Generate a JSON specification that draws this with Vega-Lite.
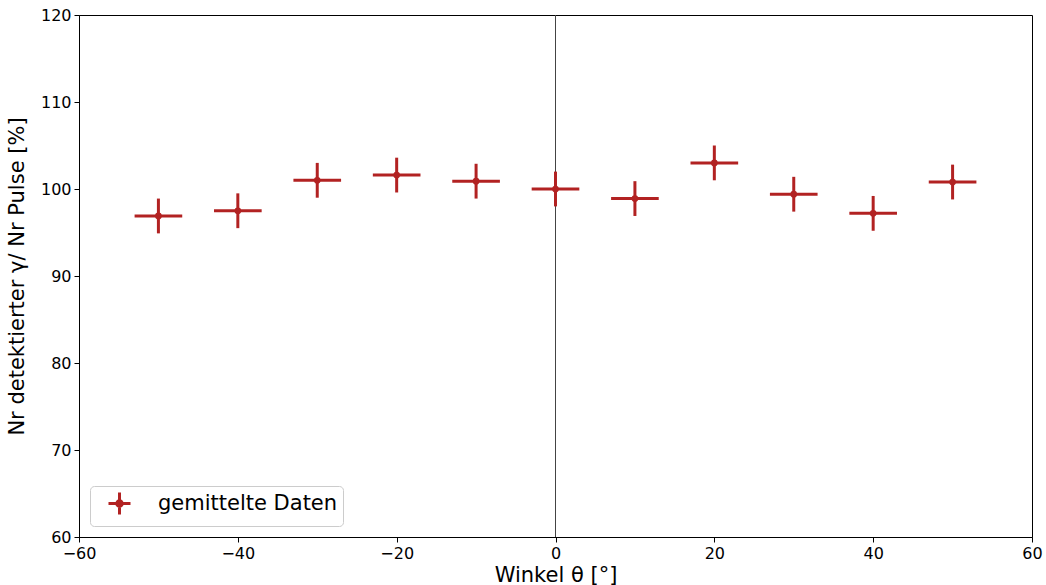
{
  "$schema": "https://vega.github.io/schema/vega-lite/v6.json",
  "width": 953,
  "height": 522,
  "autosize": {"type": "none"},
  "padding": {"left": 79, "top": 15, "right": 14, "bottom": 48},
  "background": "white",
  "data": {
    "values": [
      {"theta": -50, "rate": 96.9, "xlo": -53, "xhi": -47, "ylo": 94.9, "yhi": 98.9, "series": "gemittelte Daten"},
      {"theta": -40, "rate": 97.5, "xlo": -43, "xhi": -37, "ylo": 95.5, "yhi": 99.5, "series": "gemittelte Daten"},
      {"theta": -30, "rate": 101.0, "xlo": -33, "xhi": -27, "ylo": 99.0, "yhi": 103.0, "series": "gemittelte Daten"},
      {"theta": -20, "rate": 101.6, "xlo": -23, "xhi": -17, "ylo": 99.6, "yhi": 103.6, "series": "gemittelte Daten"},
      {"theta": -10, "rate": 100.9, "xlo": -13, "xhi": -7, "ylo": 98.9, "yhi": 102.9, "series": "gemittelte Daten"},
      {"theta": 0, "rate": 100.0, "xlo": -3, "xhi": 3, "ylo": 98.0, "yhi": 102.0, "series": "gemittelte Daten"},
      {"theta": 10, "rate": 98.9, "xlo": 7, "xhi": 13, "ylo": 96.9, "yhi": 100.9, "series": "gemittelte Daten"},
      {"theta": 20, "rate": 103.0, "xlo": 17, "xhi": 23, "ylo": 101.0, "yhi": 105.0, "series": "gemittelte Daten"},
      {"theta": 30, "rate": 99.4, "xlo": 27, "xhi": 33, "ylo": 97.4, "yhi": 101.4, "series": "gemittelte Daten"},
      {"theta": 40, "rate": 97.2, "xlo": 37, "xhi": 43, "ylo": 95.2, "yhi": 99.2, "series": "gemittelte Daten"},
      {"theta": 50, "rate": 100.8, "xlo": 47, "xhi": 53, "ylo": 98.8, "yhi": 102.8, "series": "gemittelte Daten"}
    ]
  },
  "layer": [
    {
      "mark": {"type": "rule", "color": "#444444", "strokeWidth": 1},
      "encoding": {"x": {"datum": 0, "type": "quantitative"}}
    },
    {
      "mark": {"type": "rule", "strokeWidth": 3, "color": "#b22222"},
      "encoding": {
        "x": {"field": "xlo", "type": "quantitative"},
        "x2": {"field": "xhi"},
        "y": {"field": "rate", "type": "quantitative"}
      }
    },
    {
      "mark": {"type": "rule", "strokeWidth": 3, "color": "#b22222"},
      "encoding": {
        "x": {"field": "theta", "type": "quantitative"},
        "y": {"field": "ylo", "type": "quantitative"},
        "y2": {"field": "yhi"}
      }
    },
    {
      "mark": {"type": "point", "filled": true, "size": 45, "opacity": 1, "shape": "circle"},
      "encoding": {
        "x": {
          "field": "theta", "type": "quantitative",
          "scale": {"domain": [-60, 60], "nice": false, "zero": false},
          "axis": {"values": [-60, -40, -20, 0, 20, 40, 60], "title": "Winkel θ [°]", "titlePadding": 3}
        },
        "y": {
          "field": "rate", "type": "quantitative",
          "scale": {"domain": [60, 120], "nice": false, "zero": false},
          "axis": {"values": [60, 70, 80, 90, 100, 110, 120], "title": "Nr detektierter γ/ Nr Pulse [%]", "titlePadding": 13}
        },
        "color": {
          "field": "series", "type": "nominal",
          "scale": {"range": ["#b22222"]},
          "legend": {
            "title": null,
            "orient": "bottom-left",
            "offset": 11,
            "symbolType": "M-1,0H1M0,-1V1M0.25,0A0.25,0.25 0 1,1 -0.25,0A0.25,0.25 0 1,1 0.25,0Z",
            "symbolSize": 484,
            "symbolOffset": 12,
            "symbolStrokeWidth": 3,
            "symbolStrokeColor": "#b22222",
            "symbolFillColor": "#b22222",
            "labelFontSize": 21,
            "labelOffset": 26,
            "labelLimit": 400,
            "labelFont": "DejaVu Sans",
            "labelColor": "black",
            "strokeColor": "#cccccc",
            "fillColor": "white",
            "cornerRadius": 4,
            "padding": 5
          }
        }
      }
    }
  ],
  "config": {
    "font": "DejaVu Sans",
    "view": {"stroke": "black", "strokeWidth": 1},
    "axis": {
      "grid": false,
      "domainColor": "black",
      "domainWidth": 1,
      "tickColor": "black",
      "tickSize": 5,
      "tickWidth": 1,
      "labelColor": "black",
      "labelFontSize": 16,
      "labelFont": "DejaVu Sans",
      "labelPadding": 3,
      "titleColor": "black",
      "titleFontSize": 21,
      "titleFont": "DejaVu Sans",
      "titleFontWeight": "normal",
      "labelFlush": false,
      "labelOverlap": false
    }
  }
}
